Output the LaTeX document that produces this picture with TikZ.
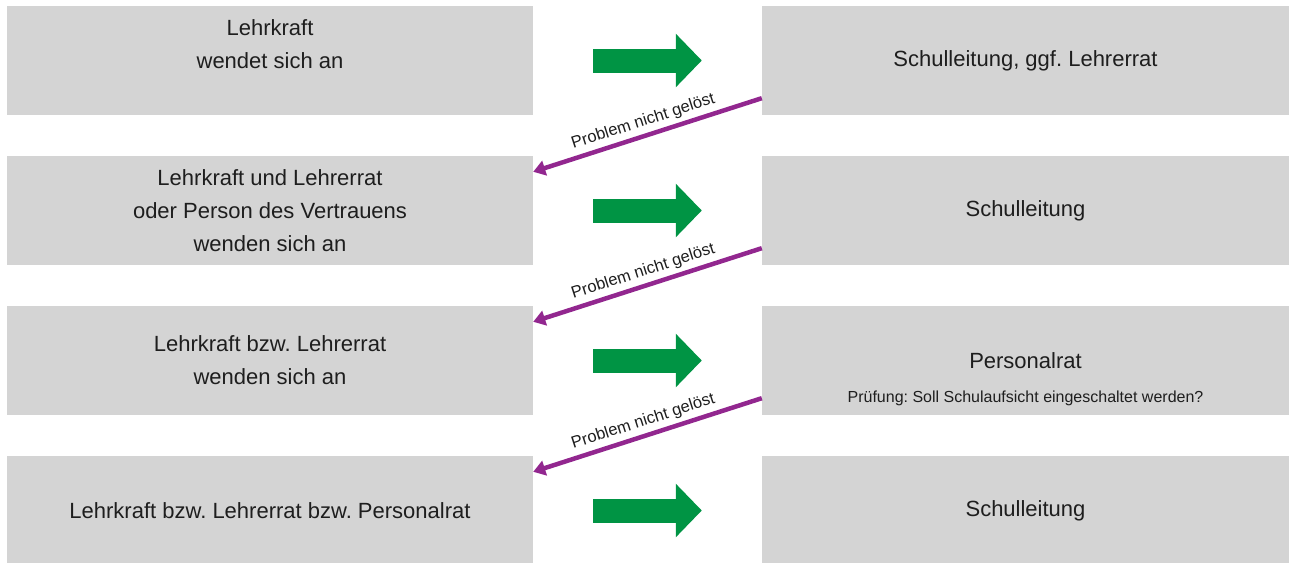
\documentclass[tikz,border=0pt]{standalone}
\usepackage{fontspec}
\setmainfont{Liberation Sans}
\usepackage{tikz}
\usetikzlibrary{arrows.meta}
\frenchspacing

\definecolor{boxgray}{RGB}{212,212,212}
\definecolor{flowgreen}{RGB}{0,148,68}
\definecolor{loopviolet}{RGB}{146,39,143}
\definecolor{textgray}{RGB}{30,30,30}

\tikzset{
  feld/.style={fill=boxgray, minimum width=526pt, minimum height=109pt, inner sep=0pt,
    align=center, text=textgray, font=\fontsize{22}{33}\selectfont},
  weiter/.style={draw=flowgreen, line width=24pt, -{Triangle[length=26pt,width=52pt]}},
  zurueck/.style={draw=loopviolet, line width=4.5pt, -{Triangle[length=12pt,width=15pt]}},
  hinweis/.style={sloped, above, pos=0.5, inner sep=4pt, text=textgray,
    font=\fontsize{16.5}{18}\selectfont},
  pruefung/.style={inner sep=0pt, text=textgray, font=\fontsize{16}{18}\selectfont}
}

\begin{document}
\begin{tikzpicture}[x=1pt,y=-1pt]
\useasboundingbox (0,0) rectangle (1289,562);
\node[feld] (l1) at (270,60.5) {Lehrkraft\\wendet sich an\\[-10pt]\strut};
\node[feld] (l2) at (270,210.5) {Lehrkraft und Lehrerrat\\oder Person des Vertrauens\\wenden sich an};
\node[feld] (l3) at (270,360.5) {Lehrkraft bzw. Lehrerrat\\wenden sich an};
\node[feld] (l4) at (270,510.5) {Lehrkraft bzw. Lehrerrat bzw. Personalrat};
\node[feld,minimum width=527pt] (r1) at (1025.5,60.5) {Schulleitung, ggf. Lehrerrat};
\node[feld,minimum width=527pt] (r2) at (1025.5,210.5) {Schulleitung};
\node[feld,minimum width=527pt] (r3) at (1025.5,360.5) {Personalrat};
\node[feld,minimum width=527pt] (r4) at (1025.5,510.5) {Schulleitung};
\node[pruefung] (p3) at ([yshift=17pt]r3.south) {Prüfung: Soll Schulaufsicht eingeschaltet werden?};
\draw[weiter] ([xshift=60pt]l1.east) -- ([xshift=-60pt]r1.west);
\draw[weiter] ([xshift=60pt]l2.east) -- ([xshift=-60pt]r2.west);
\draw[weiter] ([xshift=60pt]l3.east) -- ([xshift=-60pt]r3.west);
\draw[weiter] ([xshift=60pt]l4.east) -- ([xshift=-60pt]r4.west);
\draw[zurueck] ([yshift=17pt]r1.south west) -- node[hinweis] {Problem nicht gelöst} ([yshift=-16pt]l2.north east);
\draw[zurueck] ([yshift=17pt]r2.south west) -- node[hinweis] {Problem nicht gelöst} ([yshift=-16pt]l3.north east);
\draw[zurueck] ([yshift=17pt]r3.south west) -- node[hinweis] {Problem nicht gelöst} ([yshift=-16pt]l4.north east);
\end{tikzpicture}
\end{document}
